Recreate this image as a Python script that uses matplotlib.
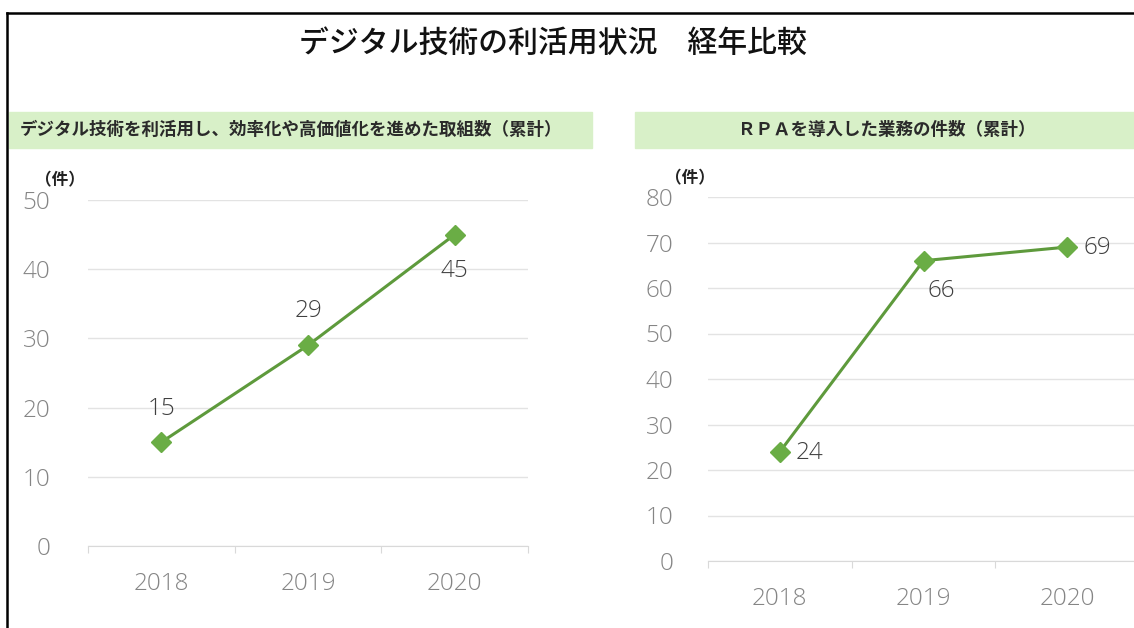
import matplotlib
matplotlib.use("Agg")
import matplotlib.pyplot as plt
from matplotlib.patches import Rectangle
from matplotlib.lines import Line2D

plt.rcParams['font.family'] = ['Noto Sans CJK JP', 'DejaVu Sans']

title = "デジタル技術の利活用状況　経年比較"
sub_left = "デジタル技術を利活用し、効率化や高価値化を進めた取組数（累計）"
sub_right = "ＲＰＡを導入した業務の件数（累計）"
unit = "（件）"
years = ["2018", "2019", "2020"]
left_values = [15, 29, 45]
right_values = [24, 66, 69]
left_yticks = [0, 10, 20, 30, 40, 50]
right_yticks = [0, 10, 20, 30, 40, 50, 60, 70, 80]

W, H = 1134, 628
fig = plt.figure(figsize=(W / 100, H / 100), dpi=100)

def fx(px):
    return px / W

def fy(py):
    return 1 - py / H

# outer frame
fig.add_artist(Line2D([fx(7), fx(7)], [fy(13), 0], color='black', lw=1.8, transform=fig.transFigure))
fig.add_artist(Line2D([fx(7), 1], [fy(13), fy(13)], color='black', lw=1.8, transform=fig.transFigure))

fig.text(fx(553), fy(43), title, ha='center', va='center', fontsize=21.5, color='#111111',
         fontweight='medium')

# green bands
band_col = '#d8f0c8'
fig.add_artist(Rectangle((fx(9), fy(148)), fx(592) - fx(9), fy(112) - fy(148),
                         transform=fig.transFigure, color=band_col, zorder=0))
fig.add_artist(Rectangle((fx(635), fy(148)), 1 - fx(635), fy(112) - fy(148),
                         transform=fig.transFigure, color=band_col, zorder=0))
fig.text(fx(20), fy(130), sub_left, ha='left', va='center', fontsize=12.6,
         color='#2a2a2a', fontweight='bold')
fig.text(fx(887), fy(130), sub_right, ha='center', va='center', fontsize=12.6,
         color='#2a2a2a', fontweight='bold')

line_col = '#5e9a3c'
mark_col = '#6aad45'
tick_col = '#858585'
grid_col = '#e3e3e3'
num_font = 'Open Sans'

def make_axes(left, right, top, bottom, values, yticks, label_offsets, label_ha, ypad):
    ax = fig.add_axes([fx(left), fy(bottom), fx(right) - fx(left), fy(top) - fy(bottom)])
    x = list(range(len(years)))
    ax.plot(x, values, color=line_col, lw=2.2, marker='D', markersize=10,
            markerfacecolor=mark_col, markeredgecolor=mark_col, zorder=3, clip_on=False)
    ax.set_xlim(-0.5, len(years) - 0.5)
    ax.set_ylim(yticks[0], yticks[-1])
    ax.set_yticks(yticks)
    ax.set_xticks(x)
    ax.set_xticklabels(years, fontfamily=num_font, fontsize=17.5, color=tick_col, fontweight='light')
    ax.set_yticklabels([str(t) for t in yticks], fontfamily=num_font, fontsize=17.5,
                       color=tick_col, fontweight='light')
    ax.set_xticks([i - 0.5 for i in range(len(years) + 1)], minor=True)
    ax.tick_params(axis='x', which='major', length=0, pad=19)
    ax.tick_params(axis='x', which='minor', length=5, color='#d9d9d9', width=0.8)
    ax.tick_params(axis='y', length=0, pad=ypad)
    ax.grid(axis='y', color=grid_col, lw=1)
    ax.set_axisbelow(True)
    for s in ['top', 'right', 'left']:
        ax.spines[s].set_visible(False)
    ax.spines['bottom'].set_color('#d9d9d9')
    for xi, v, off, ha in zip(x, values, label_offsets, label_ha):
        ax.annotate(str(v), (xi, v), xytext=off, textcoords='offset pixels',
                    ha=ha, va='center', fontfamily=num_font, fontsize=17.5, color='#404040',
                    fontweight='light')
    return ax

ax1 = make_axes(88, 528, 200, 546, left_values, left_yticks,
                [(0, 33), (0, 34), (0, -36)], ['center', 'center', 'center'], 27)
ax2 = make_axes(708, 1139, 197, 561, right_values, right_yticks,
                [(16, -1), (4, -30), (16, -1)], ['left', 'left', 'left'], 25)

fig.text(fx(60), fy(180), unit, ha='center', va='center', fontsize=12, color='#222222', fontweight='bold')
fig.text(fx(690), fy(178), unit, ha='center', va='center', fontsize=12, color='#222222', fontweight='bold')

fig.savefig('out.png', dpi=100)
